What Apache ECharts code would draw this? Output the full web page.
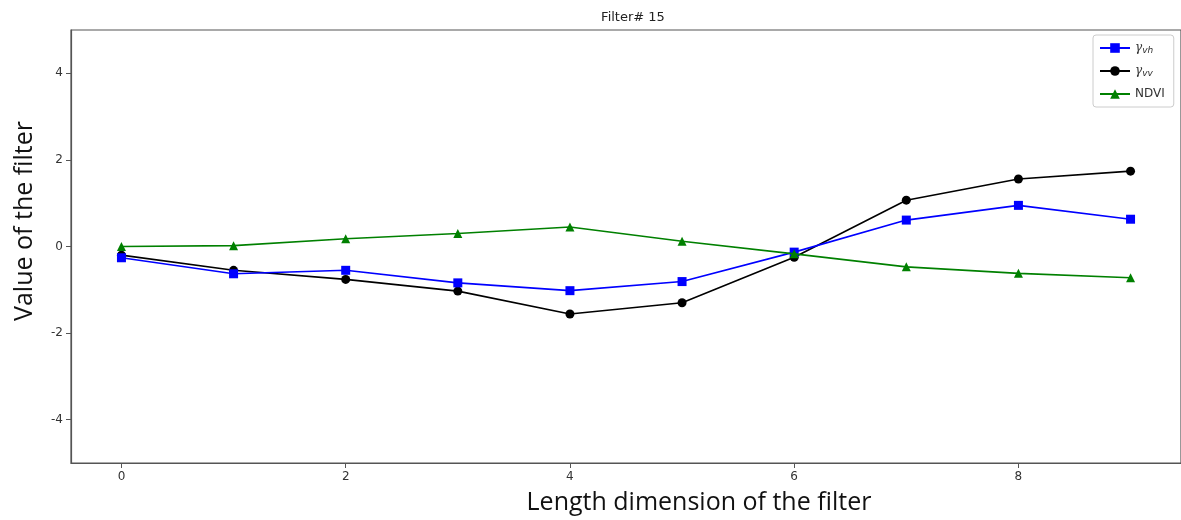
<!DOCTYPE html>
<html>
<head>
<meta charset="utf-8">
<script src="https://cdn.jsdelivr.net/npm/echarts@6/dist/echarts.min.js"></script>
<style>
  html, body { margin: 0; padding: 0; background: #fff; }
  #chart { width: 1181px; height: 520px; }
</style>
</head>
<body>
<div id="chart"></div>
<script>
// Filter positions along the length dimension
const positions = [0, 1, 2, 3, 4, 5, 6, 7, 8, 9];
// Filter weights per input channel
const gammaVH = [-0.26, -0.63, -0.55, -0.84, -1.02, -0.81, -0.13, 0.61, 0.95, 0.63];
const gammaVV = [-0.20, -0.55, -0.76, -1.03, -1.56, -1.30, -0.25, 1.07, 1.56, 1.74];
const ndvi    = [0.00, 0.02, 0.18, 0.30, 0.45, 0.12, -0.17, -0.47, -0.62, -0.72];
// Tick labels
const xTicks = [0, 2, 4, 6, 8];
const yTicks = [-4, -2, 0, 2, 4];

const seriesNames = ['γvh', 'γvv', 'NDVI'];

const pair = (xs, ys) => xs.map((x, i) => [x, ys[i]]);

const chart = echarts.init(document.getElementById('chart'), null, { renderer: 'canvas' });

const tickLabel = { color: '#333', fontSize: 12, fontFamily: 'DejaVu Sans' };
const frame = { color: '#555', width: 1.2 };

chart.setOption({
  animation: false,
  backgroundColor: '#fff',
  title: {
    text: 'Filter# 15',
    left: 628, top: 6, textAlign: 'center',
    textStyle: { fontSize: 13, fontWeight: 'normal', color: '#222', fontFamily: 'DejaVu Sans' }
  },
  grid: {
    left: 71, top: 30, width: 1112, height: 433,
    show: true, borderColor: '#555', borderWidth: 1.2, backgroundColor: 'transparent'
  },
  xAxis: {
    type: 'value', min: -0.45, max: 9.45,
    position: 'bottom',
    axisLine: { show: true, onZero: false, lineStyle: frame },
    splitLine: { show: false },
    axisTick: { show: true, customValues: xTicks, length: 5, lineStyle: { color: '#555' } },
    axisLabel: Object.assign({ customValues: xTicks, margin: 8 }, tickLabel)
  },
  yAxis: {
    type: 'value', min: -5, max: 5,
    position: 'left',
    axisLine: { show: true, onZero: false, lineStyle: frame },
    splitLine: { show: false },
    axisTick: { show: true, customValues: yTicks, length: 5, lineStyle: { color: '#555' } },
    axisLabel: Object.assign({ customValues: yTicks, margin: 8 }, tickLabel)
  },
  legend: {
    orient: 'vertical',
    left: 1093, top: 35,
    padding: [7, 9, 7, 6],
    itemGap: 10,
    itemWidth: 30, itemHeight: 12,
    borderColor: '#ccc', borderWidth: 1, borderRadius: 3,
    backgroundColor: '#fff',
    data: seriesNames,
    formatter: function (name) {
      if (name === 'γvh') return '{g|γ}{s|vh}';
      if (name === 'γvv') return '{g|γ}{s|vv}';
      return name;
    },
    textStyle: {
      color: '#333', fontSize: 12, fontFamily: 'DejaVu Sans',
      rich: {
        g: { fontSize: 12, fontStyle: 'italic', color: '#333', fontFamily: 'DejaVu Serif' },
        s: { fontSize: 9, fontStyle: 'italic', color: '#333', fontFamily: 'DejaVu Sans', verticalAlign: 'bottom', padding: [5, 0, 0, 0] }
      }
    }
  },
  graphic: [
    {
      type: 'text',
      x: 25, y: 221,
      rotation: Math.PI / 2,
      style: {
        text: 'Value of the filter', fill: '#111',
        font: '25px "Open Sans"', textAlign: 'center', textVerticalAlign: 'middle'
      }
    },
    {
      type: 'text',
      x: 699, y: 503,
      style: {
        text: 'Length dimension of the filter', fill: '#111',
        font: '25px "Open Sans"', textAlign: 'center', textVerticalAlign: 'middle'
      }
    }
  ],
  series: [
    {
      name: seriesNames[0], type: 'line', data: pair(positions, gammaVH),
      symbol: 'rect', symbolSize: 9,
      lineStyle: { color: '#0000ff', width: 1.6 },
      itemStyle: { color: '#0000ff' }, z: 3
    },
    {
      name: seriesNames[1], type: 'line', data: pair(positions, gammaVV),
      symbol: 'circle', symbolSize: 9,
      lineStyle: { color: '#000000', width: 1.6 },
      itemStyle: { color: '#000000' }, z: 2
    },
    {
      name: seriesNames[2], type: 'line', data: pair(positions, ndvi),
      symbol: 'triangle', symbolSize: 9,
      lineStyle: { color: '#008000', width: 1.6 },
      itemStyle: { color: '#008000' }, z: 4
    }
  ]
});
</script>
</body>
</html>
